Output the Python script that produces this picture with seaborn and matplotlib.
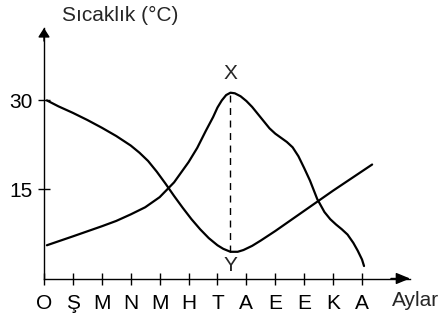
import matplotlib
matplotlib.use('Agg')
import matplotlib.pyplot as plt
import seaborn as sns
import pandas as pd

# aylar (x ekseni etiketleri)
aylar = ['O', 'Ş', 'M', 'N', 'M', 'H', 'T', 'A', 'E', 'E', 'K', 'A']
ay_pos = list(range(len(aylar)))

# birinci eğri: 30'dan başlayıp Y'de en düşük, sonra doğrusal artan
c1_x = [0.1, 0.5, 1.0, 1.5, 2.0, 2.5, 3.0, 3.3, 3.6, 3.9, 4.2, 4.5, 4.8, 5.1, 5.4, 5.7, 6.0, 6.2, 6.45, 6.7, 6.9, 7.2, 7.5, 8.0, 9.0, 10.0, 11.35]
c1_y = [30.0, 29.0, 27.9, 26.7, 25.4, 24.0, 22.4, 21.2, 19.8, 18.0, 16.0, 13.9, 11.9, 10.0, 8.3, 6.8, 5.6, 5.0, 4.5, 4.5, 4.8, 5.5, 6.4, 8.0, 11.4, 14.8, 19.2]

# ikinci eğri: X'te en yüksek
c2_x = [0.1, 1.0, 2.0, 2.5, 3.0, 3.5, 4.0, 4.5, 5.0, 5.3, 5.6, 5.85, 6.0, 6.15, 6.3, 6.45, 6.6, 6.8, 7.0, 7.2, 7.4, 7.6, 7.8, 8.0, 8.2, 8.4, 8.6, 8.8, 9.0, 9.2, 9.45, 9.7, 9.9, 10.1, 10.3, 10.5, 10.7, 10.85, 11.0, 11.07]
c2_y = [5.6, 7.1, 8.8, 9.7, 10.8, 12.0, 13.7, 16.2, 19.6, 22.0, 24.9, 27.2, 28.8, 30.0, 30.9, 31.3, 31.2, 30.7, 29.9, 28.9, 27.7, 26.5, 25.3, 24.4, 23.7, 23.0, 22.1, 20.6, 18.6, 16.5, 13.4, 11.2, 10.0, 9.1, 8.3, 7.4, 6.0, 4.7, 3.2, 2.1]

y_ticks = [15, 30]
x_peak = 6.45

sns.set_style('white')
plt.rcParams['font.family'] = ['Liberation Sans', 'DejaVu Sans']

fig = plt.figure(figsize=(4.44, 3.23), dpi=100)
ax = fig.add_axes([44 / 444, 1 - 278.5 / 323, 366 / 444, 250.5 / 323])

d1 = pd.DataFrame({'x': c1_x, 'y': c1_y})
d2 = pd.DataFrame({'x': c2_x, 'y': c2_y})
sns.lineplot(data=d1, x='x', y='y', sort=False, color='black', lw=1.6, ax=ax)
sns.lineplot(data=d2, x='x', y='y', sort=False, color='black', lw=1.6, ax=ax)

# X - Y arası kesikli çizgi
ax.plot([x_peak, x_peak], [min(c1_y), max(c2_y)], color='black', lw=1, ls=(0, (5, 4)))
ax.text(x_peak, 34.6, 'X', ha='center', va='center', fontsize=15)
ax.text(x_peak, 2.2, 'Y', ha='center', va='center', fontsize=15)

ax.set_xlim(0, 12.66)
ax.set_ylim(0, 42.2)
ax.set_xticks(ay_pos)
ax.set_xticklabels(aylar)
ax.set_yticks(y_ticks)
ax.set_xlabel('')
ax.set_ylabel('')
for s in ['top', 'right']:
    ax.spines[s].set_visible(False)
for s in ['left', 'bottom']:
    ax.spines[s].set_color('black')
    ax.spines[s].set_linewidth(1)
ax.tick_params(bottom=True, left=True, direction='inout', length=9, width=1,
               labelsize=15, colors='black')
ax.tick_params(axis='x', pad=7)
ax.tick_params(axis='y', pad=4)

# ok uçları
ax.annotate('', xy=(12.66, 0), xytext=(12.0, 0), annotation_clip=False,
            arrowprops=dict(arrowstyle='-|>,head_length=0.85,head_width=0.35', color='black', lw=1, shrinkA=0, shrinkB=0))
ax.annotate('', xy=(0, 42.2), xytext=(0, 40), annotation_clip=False,
            arrowprops=dict(arrowstyle='-|>,head_length=0.55,head_width=0.35', color='black', lw=1, shrinkA=0, shrinkB=0))

fig.text(120 / 444, 1 - 15 / 323, 'Sıcaklık (°C)', ha='center', va='center', fontsize=15)
fig.text(392 / 444, 1 - 300 / 323, 'Aylar', ha='left', va='center', fontsize=15)

fig.savefig('out.png', dpi=100)
